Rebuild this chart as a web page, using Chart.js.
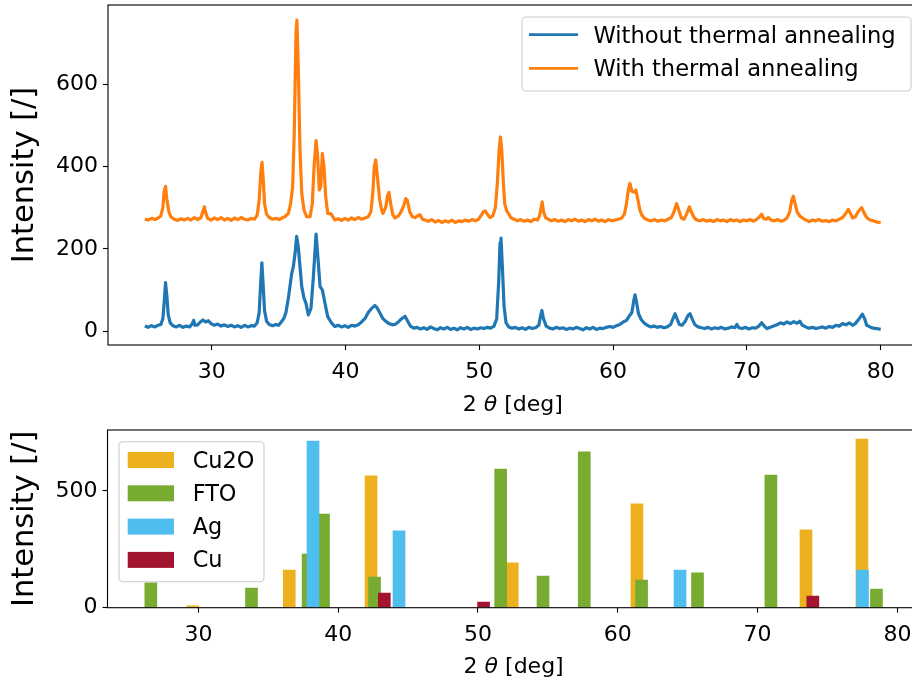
<!DOCTYPE html>
<html>
<head>
<meta charset="utf-8">
<script src="https://cdn.jsdelivr.net/npm/chart.js@4.4.1/dist/chart.umd.min.js"></script>
<style>
  html, body { margin: 0; padding: 0; background: #fff; overflow: hidden; }
  #wrap { position: relative; width: 912px; height: 681px; overflow: hidden; }
  canvas { position: absolute; left: 0; }
  #xrd { top: 0; }
  #ref { top: 420px; }
</style>
</head>
<body>
<div id="wrap">
  <canvas id="xrd" width="930" height="420"></canvas>
  <canvas id="ref" width="930" height="261"></canvas>
</div>
<script>
// measured pattern, sample without annealing
const rawAngle = [
  25.0, 25.25, 25.5, 25.75, 26.0, 26.2, 26.35, 26.45, 26.55, 26.65, 26.75, 26.9, 27.1, 27.35, 27.6, 27.85,
  28.1, 28.35, 28.55, 28.65, 28.75, 28.95, 29.15, 29.35, 29.55, 29.75, 29.95, 30.2, 30.45, 30.7, 30.95,
  31.2, 31.45, 31.7, 31.95, 32.2, 32.45, 32.7, 32.95, 33.2, 33.4, 33.55, 33.65, 33.75, 33.85, 33.95, 34.1,
  34.3, 34.55, 34.8, 35.0, 35.2, 35.4, 35.55, 35.73, 35.98, 36.1, 36.23, 36.35, 36.47, 36.6, 36.73, 36.9,
  37.05, 37.22, 37.42, 37.6, 37.8, 37.97, 38.1, 38.27, 38.47, 38.67, 38.97, 39.2, 39.45, 39.7, 39.95, 40.2,
  40.45, 40.7, 40.95, 41.2, 41.45, 41.7, 41.95, 42.2, 42.35, 42.55, 42.8, 43.0, 43.25, 43.5, 43.7, 43.95,
  44.2, 44.45, 44.65, 44.85, 45.1, 45.35, 45.6, 45.85, 46.1, 46.35, 46.6, 46.85, 47.1, 47.35, 47.6, 47.85,
  48.1, 48.35, 48.6, 48.85, 49.1, 49.35, 49.6, 49.85, 50.1, 50.35, 50.6, 50.85, 51.1, 51.3, 51.45, 51.55,
  51.62, 51.72, 51.85, 52.0, 52.2, 52.45, 52.7, 52.95, 53.2, 53.45, 53.7, 53.95, 54.2, 54.45, 54.6, 54.68,
  54.8, 55.0, 55.25, 55.5, 55.75, 56.0, 56.25, 56.5, 56.75, 57.0, 57.25, 57.5, 57.75, 58.0, 58.25, 58.5,
  58.75, 59.0, 59.25, 59.5, 59.75, 60.0, 60.25, 60.5, 60.75, 61.0, 61.2, 61.4, 61.55, 61.64, 61.75, 61.9,
  62.1, 62.3, 62.55, 62.8, 63.05, 63.3, 63.55, 63.8, 64.05, 64.3, 64.5, 64.63, 64.8, 64.95, 65.15, 65.4,
  65.6, 65.75, 65.9, 66.1, 66.35, 66.6, 66.85, 67.1, 67.35, 67.6, 67.85, 68.1, 68.35, 68.6, 68.85, 69.1,
  69.25, 69.4, 69.65, 69.9, 70.15, 70.4, 70.65, 70.9, 71.1, 71.3, 71.5, 71.75, 72.0, 72.25, 72.5, 72.75,
  73.0, 73.25, 73.5, 73.75, 73.95, 74.15, 74.4, 74.65, 74.9, 75.15, 75.4, 75.65, 75.9, 76.15, 76.4, 76.65,
  76.9, 77.15, 77.4, 77.65, 77.9, 78.1, 78.3, 78.5, 78.63, 78.8, 78.95, 79.2, 79.45, 79.7, 80.0
];
const rawCounts = [
  12, 9, 13, 10, 14, 16, 30, 70, 118, 85, 40, 20, 13, 10, 14, 9,
  12, 10, 18, 26, 14, 15, 22, 27, 22, 25, 18, 14, 17, 12, 15,
  11, 14, 10, 13, 9, 14, 10, 13, 12, 20, 45, 110, 166, 110, 50, 24,
  16, 13, 16, 14, 22, 31, 45, 80, 140, 156, 189, 230, 205, 156, 108, 80,
  67, 39, 55, 132, 236, 165, 108, 100, 67, 35, 19, 11, 14, 10, 13, 9,
  14, 12, 15, 22, 30, 45, 55, 62, 57, 45, 30, 24, 18, 15, 16, 22,
  30, 36, 24, 12, 7, 9, 5, 8, 4, 10, 6, 3, 8, 5, 9, 4,
  7, 3, 8, 5, 9, 4, 7, 5, 8, 6, 9, 7, 12, 30, 120, 215,
  226, 160, 60, 20, 10, 7, 9, 5, 8, 4, 9, 6, 8, 14, 40, 50,
  30, 12, 7, 5, 9, 6, 8, 4, 7, 5, 9, 6, 3, 8, 5, 9,
  4, 7, 6, 9, 11, 9, 13, 16, 22, 26, 36, 45, 75, 88, 70, 42,
  28, 20, 14, 10, 12, 9, 11, 8, 10, 16, 32, 42, 28, 16, 14, 24,
  38, 42, 30, 16, 10, 8, 6, 9, 5, 8, 6, 9, 5, 7, 10, 8,
  16, 8, 6, 9, 5, 8, 7, 12, 20, 12, 6, 9, 12, 15, 20, 17,
  22, 18, 23, 19, 24, 14, 10, 7, 9, 6, 8, 10, 7, 11, 9, 14,
  12, 18, 15, 20, 14, 18, 26, 35, 41, 30, 14, 10, 7, 6, 4
];

// measured pattern, annealed sample
const annealedAngle = [
  25.0, 25.25, 25.5, 25.75, 26.0, 26.2, 26.35, 26.45, 26.55, 26.65, 26.8, 26.95, 27.2, 27.45, 27.7, 27.95,
  28.2, 28.45, 28.7, 28.95, 29.2, 29.35, 29.45, 29.55, 29.7, 29.95, 30.2, 30.45, 30.7, 30.95, 31.2, 31.45,
  31.7, 31.95, 32.2, 32.45, 32.7, 32.95, 33.2, 33.4, 33.55, 33.68, 33.76, 33.85, 33.95, 34.1, 34.3, 34.55,
  34.8, 35.05, 35.3, 35.48, 35.73, 35.9, 36.05, 36.17, 36.3, 36.37, 36.47, 36.6, 36.73, 36.9, 37.1, 37.35,
  37.52, 37.65, 37.8, 37.92, 38.04, 38.15, 38.27, 38.39, 38.52, 38.67, 38.92, 39.2, 39.45, 39.7, 39.95, 40.2,
  40.45, 40.7, 40.95, 41.2, 41.45, 41.7, 41.9, 42.05, 42.15, 42.26, 42.4, 42.55, 42.7, 42.8, 43.0, 43.15,
  43.25, 43.4, 43.55, 43.7, 43.95, 44.15, 44.35, 44.5, 44.62, 44.8, 45.0, 45.2, 45.4, 45.57, 45.75, 45.95,
  46.2, 46.45, 46.7, 46.95, 47.2, 47.45, 47.7, 47.95, 48.2, 48.45, 48.7, 48.95, 49.2, 49.45, 49.7, 49.95,
  50.15, 50.3, 50.45, 50.6, 50.8, 51.0, 51.2, 51.35, 51.48, 51.58, 51.68, 51.8, 51.9, 52.05, 52.2, 52.35,
  52.6, 52.85, 53.1, 53.35, 53.6, 53.85, 54.1, 54.35, 54.5, 54.62, 54.7, 54.8, 54.95, 55.15, 55.4, 55.65,
  55.9, 56.15, 56.4, 56.65, 56.9, 57.15, 57.4, 57.65, 57.9, 58.15, 58.4, 58.65, 58.9, 59.15, 59.4, 59.65,
  59.9, 60.15, 60.4, 60.65, 60.85, 61.0, 61.15, 61.26, 61.4, 61.55, 61.7, 61.85, 62.0, 62.15, 62.35, 62.6,
  62.85, 63.1, 63.35, 63.6, 63.85, 64.1, 64.35, 64.55, 64.75, 64.9, 65.1, 65.3, 65.5, 65.7, 65.85, 66.05,
  66.25, 66.5, 66.75, 67.0, 67.25, 67.5, 67.75, 68.0, 68.25, 68.5, 68.75, 69.0, 69.25, 69.5, 69.75, 70.0,
  70.25, 70.5, 70.75, 70.95, 71.1, 71.25, 71.45, 71.6, 71.8, 72.05, 72.3, 72.55, 72.8, 73.0, 73.2, 73.35,
  73.47, 73.6, 73.75, 73.95, 74.15, 74.4, 74.65, 74.9, 75.15, 75.4, 75.65, 75.9, 76.15, 76.4, 76.65, 76.9,
  77.15, 77.35, 77.58, 77.75, 77.9, 78.1, 78.35, 78.58, 78.75, 78.95, 79.2, 79.45, 79.7, 80.0
];
const annealedCounts = [
  272, 270, 274, 271, 275, 280, 300, 340, 352, 320, 290, 278, 272, 269, 273, 270,
  274, 270, 276, 271, 276, 292, 302, 288, 274, 270, 275, 271, 276, 270, 274, 269,
  275, 271, 276, 272, 270, 274, 272, 282, 320, 390, 410, 370, 310, 284, 276, 272,
  274, 271, 276, 278, 286, 310, 351, 481, 724, 756, 643, 440, 335, 294, 278, 278,
  310, 400, 463, 424, 343, 351, 432, 400, 327, 286, 285, 270, 273, 269, 274, 270,
  275, 271, 276, 272, 275, 278, 290, 340, 400, 416, 370, 320, 295, 286, 300, 330,
  337, 305, 282, 275, 280, 290, 305, 322, 318, 290, 278, 276, 280, 283, 272, 270,
  267, 271, 265, 269, 264, 268, 265, 270, 264, 268, 266, 270, 267, 271, 268, 272,
  282, 290, 292, 284, 276, 280, 300, 360, 440, 472, 440, 360, 310, 292, 285, 276,
  272, 268, 271, 267, 270, 266, 272, 270, 280, 300, 314, 290, 276, 272, 268, 271,
  267, 270, 266, 271, 268, 272, 267, 270, 266, 271, 268, 272, 267, 270, 266, 271,
  268, 270, 272, 275, 285, 310, 345, 359, 340, 338, 343, 320, 294, 282, 274, 270,
  268, 271, 267, 270, 268, 272, 276, 290, 310, 295, 275, 272, 285, 302, 290, 276,
  270, 268, 271, 267, 270, 266, 271, 268, 270, 266, 271, 268, 270, 266, 270, 268,
  271, 267, 272, 278, 284, 274, 272, 276, 270, 268, 271, 267, 270, 275, 290, 318,
  328, 310, 290, 280, 275, 270, 266, 270, 268, 271, 267, 269, 266, 270, 268, 272,
  276, 284, 296, 285, 275, 278, 292, 300, 288, 276, 270, 268, 265, 264
];

// reference peak positions and intensities
const cu2oAngle = [29.6, 36.5, 42.35, 52.45, 61.37, 73.46, 77.46];
const cu2oCounts = [8, 161, 565, 192, 445, 333, 722];
const ftoAngle = [26.6, 33.8, 37.85, 38.95, 42.6, 51.62, 54.65, 57.6, 61.7, 65.7, 70.95, 78.5];
const ftoCounts = [106, 84, 230, 401, 131, 594, 135, 667, 118, 149, 568, 80];
const agAngle = [38.2, 44.35, 64.45, 77.5];
const agCounts = [714, 329, 161, 161];
const cuAngle = [43.3, 50.4, 73.95];
const cuCounts = [63, 24, 50];

const xTicks = [30, 40, 50, 60, 70, 80];
const patternTicks = [0, 200, 400, 600];
const refTicks = [0, 500];

const FONT = '"DejaVu Sans", sans-serif';
const tickFont = { family: FONT, size: 22 };

function pairs(xs, ys) {
  return xs.map((x, i) => ({ x: x, y: ys[i] }));
}

function fixedTicks(values) {
  return function (scale) {
    scale.ticks = values.map(v => ({ value: v }));
  };
}

// pin the axis thickness and drop the label overhang padding chart.js adds
function pinWidth(w) {
  return function (s) { s.width = w; s.paddingTop = 0; s.paddingBottom = 0; };
}
function pinHeight(h) {
  return function (s) { s.height = h; s.paddingLeft = 0; s.paddingRight = 0; };
}

function axisStyle(extra) {
  return Object.assign({
    border: { display: false },
    grid: {
      display: true,
      offset: false,
      drawOnChartArea: false,
      drawTicks: true,
      tickLength: 5,
      tickWidth: 1.1,
      color: '#000'
    },
    ticks: {
      color: '#000',
      font: tickFont,
      maxRotation: 0,
      autoSkip: false,
      callback: v => String(v)
    }
  }, extra);
}

// full box around the plot area, drawn over the data like matplotlib spines
const frame = {
  id: 'frame',
  afterDatasetsDraw(chart) {
    const { ctx, chartArea: a } = chart;
    ctx.save();
    ctx.strokeStyle = '#000';
    ctx.lineWidth = 1.1;
    ctx.strokeRect(a.left, a.top, a.right - a.left, a.bottom - a.top);
    ctx.restore();
  }
};

// "2 θ [deg]" with an italic theta
const angleTitle = {
  id: 'angleTitle',
  afterDraw(chart, args, opts) {
    const { ctx, chartArea: a } = chart;
    const parts = [['2 ', 'normal'], ['\u03b8', 'italic'], [' [deg]', 'normal']];
    ctx.save();
    ctx.fillStyle = '#000';
    ctx.textBaseline = 'alphabetic';
    ctx.textAlign = 'left';
    const widths = parts.map(([t, s]) => {
      ctx.font = s + ' 22px ' + FONT;
      return ctx.measureText(t).width;
    });
    const total = widths.reduce((s, w) => s + w, 0);
    let x = (a.left + a.right) / 2 - total / 2;
    parts.forEach(([t, s], i) => {
      ctx.font = s + ' 22px ' + FONT;
      ctx.fillText(t, x, a.bottom + opts.offset);
      x += widths[i];
    });
    ctx.restore();
  }
};

function legendBox(ctx, x, y, w, h) {
  ctx.beginPath();
  ctx.roundRect(x, y, w, h, 4);
  ctx.fillStyle = 'rgba(255,255,255,0.8)';
  ctx.fill();
  ctx.strokeStyle = '#cccccc';
  ctx.lineWidth = 1.1;
  ctx.stroke();
}

const lineLegend = {
  id: 'lineLegend',
  afterDraw(chart) {
    const { ctx, chartArea: a } = chart;
    const x0 = a.right - 395.5, y0 = a.top + 12;
    ctx.save();
    legendBox(ctx, x0, y0, 389, 74);
    ctx.font = '22.6px ' + FONT;
    ctx.textBaseline = 'alphabetic';
    chart.data.datasets.forEach((ds, i) => {
      const cy = y0 + 17.6 + i * 33.7;
      ctx.beginPath();
      ctx.moveTo(x0 + 7, cy);
      ctx.lineTo(x0 + 56, cy);
      ctx.strokeStyle = ds.borderColor;
      ctx.lineWidth = 2.8;
      ctx.stroke();
      ctx.fillStyle = '#000';
      ctx.fillText(ds.label, x0 + 71.5, cy + 8.1);
    });
    ctx.restore();
  }
};

const barLegend = {
  id: 'barLegend',
  afterDraw(chart) {
    const { ctx, chartArea: a } = chart;
    const x0 = a.left + 11.5, y0 = a.top + 11.7;
    ctx.save();
    legendBox(ctx, x0, y0, 145, 140);
    ctx.font = '22.4px ' + FONT;
    ctx.textBaseline = 'alphabetic';
    chart.data.datasets.forEach((ds, i) => {
      const cy = y0 + 18.3 + i * 33.3;
      ctx.fillStyle = ds.backgroundColor;
      ctx.fillRect(x0 + 8.7, cy - 8, 46.3, 16);
      ctx.fillStyle = '#000';
      ctx.fillText(ds.label, x0 + 73.7, cy + 7.5);
    });
    ctx.restore();
  }
};

const common = {
  responsive: false,
  animation: false,
  devicePixelRatio: 1,
  events: [],
  plugins: { legend: { display: false }, tooltip: { enabled: false } }
};

new Chart(document.getElementById('xrd'), {
  type: 'line',
  data: {
    datasets: [
      {
        label: 'Without thermal annealing',
        data: pairs(rawAngle, rawCounts),
        borderColor: '#1f77b4',
        borderWidth: 3.2,
        borderJoinStyle: 'round',
        pointRadius: 0,
        tension: 0
      },
      {
        label: 'With thermal annealing',
        data: pairs(annealedAngle, annealedCounts),
        borderColor: '#ff7f0e',
        borderWidth: 3.2,
        borderJoinStyle: 'round',
        pointRadius: 0,
        tension: 0
      }
    ]
  },
  options: Object.assign({}, common, {
    layout: { padding: { top: 5, right: 12.5, left: 0, bottom: 0 } },
    plugins: Object.assign({}, common.plugins, { angleTitle: { offset: 66 } }),
    scales: {
      x: axisStyle({
        type: 'linear',
        min: 22.25,
        max: 82.75,
        afterBuildTicks: fixedTicks(xTicks),
        afterFit: pinHeight(75),
        ticks: Object.assign({}, axisStyle().ticks, { padding: 9 })
      }),
      y: axisStyle({
        min: -34,
        max: 793,
        afterBuildTicks: fixedTicks(patternTicks),
        afterFit: pinWidth(108),
        ticks: Object.assign({}, axisStyle().ticks, { padding: 5 }),
        title: {
          display: true,
          text: 'Intensity [/]',
          color: '#000',
          font: { family: FONT, size: 30.5 },
          padding: { top: 7, bottom: 0 }
        }
      })
    }
  }),
  plugins: [frame, angleTitle, lineLegend]
});

new Chart(document.getElementById('ref'), {
  type: 'bar',
  data: {
    datasets: [
      { label: 'Cu2O', data: pairs(cu2oAngle, cu2oCounts), backgroundColor: '#EDB120', order: 3 },
      { label: 'FTO', data: pairs(ftoAngle, ftoCounts), backgroundColor: '#77AC30', order: 2 },
      { label: 'Ag', data: pairs(agAngle, agCounts), backgroundColor: '#4DBEEE', order: 1 },
      { label: 'Cu', data: pairs(cuAngle, cuCounts), backgroundColor: '#A2142F', order: 0 }
    ]
  },
  options: Object.assign({}, common, {
    datasets: { bar: { barThickness: 12, grouped: false, borderWidth: 0 } },
    layout: { padding: { top: 10, right: 10.2, left: 0, bottom: 0 } },
    plugins: Object.assign({}, common.plugins, { angleTitle: { offset: 65 } }),
    scales: {
      x: axisStyle({
        type: 'linear',
        offset: false,
        min: 23.5,
        max: 81.6,
        afterBuildTicks: fixedTicks(xTicks),
        afterFit: pinHeight(73.3),
        ticks: Object.assign({}, axisStyle().ticks, { padding: 9 })
      }),
      y: axisStyle({
        min: 0,
        max: 761,
        afterBuildTicks: fixedTicks(refTicks),
        afterFit: pinWidth(107.5),
        ticks: Object.assign({}, axisStyle().ticks, { padding: 5 }),
        title: {
          display: true,
          text: 'Intensity [/]',
          color: '#000',
          font: { family: FONT, size: 30.5 },
          padding: { top: 7, bottom: 0 }
        }
      })
    }
  }),
  plugins: [frame, angleTitle, barLegend]
});
</script>
</body>
</html>
